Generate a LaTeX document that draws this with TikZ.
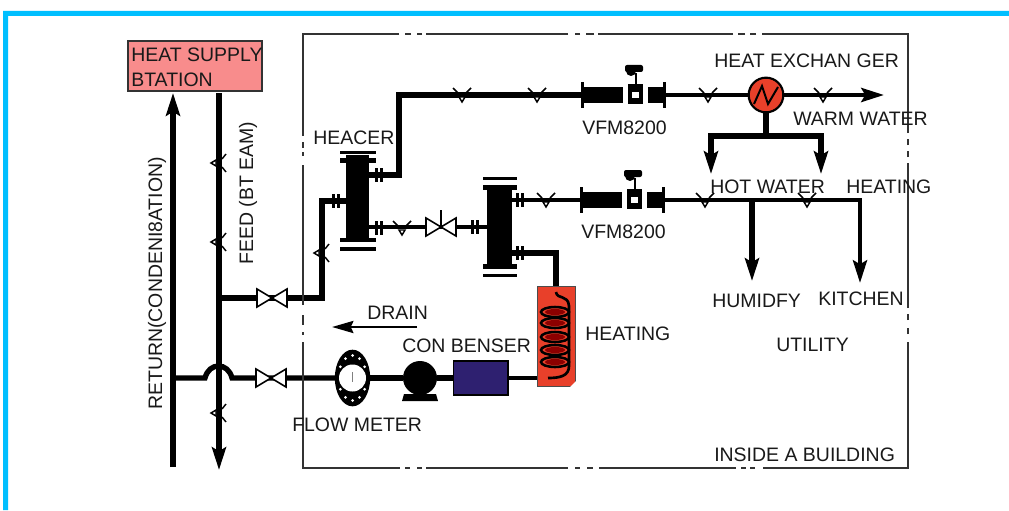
\documentclass[tikz,border=0pt]{standalone}
\usepackage{fontspec}
\setmainfont{Liberation Sans}
\usetikzlibrary{arrows.meta,shapes.geometric,backgrounds}
\definecolor{edgeblue}{HTML}{00BFFF}
\definecolor{supplyred}{HTML}{F88C8C}
\definecolor{hotred}{HTML}{E8402A}
\definecolor{navybox}{HTML}{2E2070}
\definecolor{framegray}{HTML}{333333}
\tikzset{
  pipe/.style={line width=4pt,line join=miter,draw=black},
  thinpipe/.style={line width=3.2pt,draw=black},
  flow/.style={-{Stealth[length=17pt,width=10.5pt,inset=3pt]}},
  framed/.style={line width=1.5pt,draw=framegray},
  lbl/.style={inner sep=0pt,anchor=base west,text=black!90,font=\fontsize{14.6}{16}\selectfont},
  chk/.style={line width=1.1pt,draw=black},
  block/.style={inner sep=0pt,outer sep=0pt,fill=black,draw=none},
  chkh/.pic={
    \draw[chk] (-9,-7)--(-4,-2) (9,-7)--(4,-2);
    \draw[chk,fill=white] (-3,2)--(3,2)--(0,7)--cycle;
  },
  chkv/.pic={
    \draw[chk] (7,-9)--(3,-4) (7,9)--(3,4);
    \draw[chk,fill=white] (-3,-3)--(-3,3)--(-8,0)--cycle;
  },
  bowtie/.pic={
    \draw[line width=1.2pt,fill=white] (-15,-9)--(-15,9)--(0,0)--cycle;
    \draw[line width=1.2pt,fill=white] (15,-9)--(15,9)--(0,0)--cycle;
  },
  flangeh/.pic={
    \fill (-4,-7) rectangle (-1,7);
    \fill (1,-7) rectangle (4,7);
  },
  vfmdetail/.pic={
    \fill (-47,-13) rectangle (-44,13);
    \fill (-44,-8) rectangle (-5,8);
    \fill (0,-11) rectangle (15,9);
    \fill[white] (4,-3) rectangle (11,3);
    \fill (20,-8) rectangle (36,8);
    \fill (35,-13) rectangle (38,13);
    \draw[line width=1.8pt] (8,-11)--(8,-22);
    \fill[rounded corners=1.5pt] (-3,-30) rectangle (15,-23);
    \fill (3,-24) circle (5);
  },
}
\begin{document}
\begin{tikzpicture}[x=0.75pt,y=-0.75pt]
\useasboundingbox (0,0) rectangle (1009,510);
\begin{pgfonlayer}{background}
\fill[white] (0,0) rectangle (1009,510);
\fill[edgeblue] (3,510) -- (3,11) -- (1009,11) -- (1009,16) -- (8,16) -- (8,510) -- cycle;
\end{pgfonlayer}

% frame
\draw[framed,line cap=butt]
  (399,34) -- (303,34) -- (303,136) (303,142) -- (303,148) (303,152) -- (303,156) (303,165) -- (303,305)
  (303,315) -- (303,325) (303,332) -- (303,335) (303,342) -- (303,468) -- (400,468)
  (405,468) -- (410,468) (417,468) -- (422,468) (426,468) -- (568,468)
  (575,468) -- (580,468) (587,468) -- (593,468) (599,468) -- (736,468)
  (741,468) -- (746,468) (750,468) -- (755,468) (763,468) -- (908,468) -- (908,342)
  (908,334) -- (908,328) (908,320) -- (908,314) (908,308) -- (908,163)
  (908,157) -- (908,151) (908,145) -- (908,139) (908,133) -- (908,34) -- (762,34)
  (756,34) -- (750,34) (745,34) -- (738,34) (733,34) -- (598,34)
  (594,34) -- (586,34) (580,34) -- (575,34) (568,34) -- (426,34)
  (422,34) -- (417,34) (411,34) -- (405,34);

% components
\node[draw=black!80,line width=1.2pt,fill=supplyred,minimum width=100.5pt,minimum height=37.5pt,inner sep=0pt] (supply) at (195,66) {};
\node[block,minimum width=17.5pt,minimum height=64pt] (heaterA) at (357.5,198) {};
\node[block,minimum width=18.5pt,minimum height=59pt] (heaterB) at (499.5,227) {};
\node[inner sep=0pt,outer sep=0pt,minimum width=61pt,minimum height=15pt] (vfmA) at (623,95) {};
\node[inner sep=0pt,outer sep=0pt,minimum width=63pt,minimum height=15pt] (vfmB) at (622,200) {};
\node[circle,draw=black,line width=1.6pt,fill=hotred,minimum size=26pt,inner sep=0pt] (hx) at (766,95) {};
\node[draw=black,line width=1pt,fill=navybox,minimum width=41pt,minimum height=25.5pt,inner sep=0pt] (cond) at (480.5,378) {};
\node[draw=black!70,line width=.8pt,fill=hotred,minimum width=29pt,minimum height=75.5pt,inner sep=0pt] (coil) at (556.5,336.5) {};
\node[circle,block,minimum size=25.5pt] (pump) at (420,378) {};
\node[ellipse,block,minimum width=26.5pt,minimum height=42.5pt] (meter) at (352.5,378) {};
\node[coordinate] (vfeed) at (272,298) {};
\node[coordinate] (vret) at (271,378) {};
\node[coordinate] (vmid) at (441,227) {};

% free ends and bends
\coordinate (rettop) at (173,93);
\coordinate (retbot) at (173,467);
\coordinate (feedtop) at (219,93);
\coordinate (feedbot) at (219,470);
\coordinate (feedtee) at (219,298);
\coordinate (rise) at (322,298);
\coordinate (riseend) at (322,201);
\coordinate (up) at (399,175);
\coordinate (top) at (399,95);
\coordinate (warmend) at (884,95);
\coordinate (split) at (766,136);
\coordinate (hotL) at (711,136);
\coordinate (hotR) at (821,136);
\coordinate (hotLend) at (711,174);
\coordinate (hotRend) at (821,174);
\coordinate (corner) at (860,200);
\coordinate (kitchen) at (860,283);
\coordinate (humtee) at (752,200);
\coordinate (humend) at (752,281);
\coordinate (lowB) at (556,253);
\coordinate (retjoin) at (173,378);
\coordinate (humpL) at (205,378);
\coordinate (humpR) at (232,378);
\coordinate (drainA) at (417,327);
\coordinate (drainB) at (332,327);
\coordinate (coilout) at (537,378);

% pipes
\begin{pgfonlayer}{background}
\draw[pipe,line width=4.2pt,flow] (retbot) -- (rettop);
\draw[pipe,line width=4.5pt,flow] (feedtop) -- (feedbot);
\draw[pipe] (feedtee) -- (vfeed) -- (rise) -- (riseend) -- (heaterA.west |- riseend);
\draw[pipe] (heaterA.east |- up) -- (up) -- (top) -- (vfmA.west |- top);
\draw[thinpipe] (vfmA.east |- top) -- (hx.west);
\draw[thinpipe,flow] (hx.east) -- (warmend);
\draw[pipe] (hx.south) -- (split);
\draw[pipe,flow] (split) -- (hotL) -- (hotLend);
\draw[pipe,flow] (split) -- (hotR) -- (hotRend);
\draw[thinpipe] (heaterA.east |- vmid) -- (vmid) -- (heaterB.west |- vmid);
\draw[thinpipe] (heaterB.east |- vfmB) -- (vfmB.west);
\draw[thinpipe,flow] (vfmB.east) -- (corner) -- (kitchen);
\draw[pipe,flow] (humtee) -- (humend);
\draw[pipe] (heaterB.east |- lowB) -- (lowB) -- (coil.north -| lowB);
\draw[pipe] (retjoin) -- (humpL) .. controls (209,362) and (228,362) .. (humpR) -- (vret) -- (meter.west);
\draw[pipe] (meter.east) -- (pump.west);
\draw[pipe] (pump.east) -- (cond.west);
\draw[thinpipe] (cond.east) -- (coilout);
\end{pgfonlayer}
\draw[line width=2.2pt,draw=black,-{Stealth[length=16pt,width=9pt,inset=2pt]}] (drainA) -- (drainB);

% fittings on the pipes
\foreach \p in {(219,163),(219,242),(219,413),(322,253)} \path \p pic {chkv};
\foreach \p in {(462,95),(537,95),(708,95),(823,95),(402,228),(546,200),(705,200),(807,200)} \path \p pic {chkh};
\path (vfeed) pic {bowtie} (vret) pic {bowtie} (vmid) pic {bowtie};
\draw[line width=1.6pt] (vmid) -- ++(0,-17);
\path (379,175) pic {flangeh} (379,228) pic {flangeh} (336,201) pic {flangeh}
      (475,227) pic {flangeh} (520,200) pic {flangeh} (520,253) pic {flangeh};
\fill (340,151) rectangle (376,154);
\fill (340,158) rectangle (376,163);
\fill (340,238) rectangle (376,242);
\fill (340,247) rectangle (376,251);
\fill (483,177) rectangle (517,180);
\fill (483,185) rectangle (517,190);
\fill (483,264) rectangle (517,269);
\fill (483,274) rectangle (517,277);
\path (628,95) pic {vfmdetail} (627,200) pic {vfmdetail};

% heat exchanger zigzag
\draw[line width=1.5pt,line join=miter] (754,104) -- (762,86) -- (768,104) -- (778,87);

% flow meter details
\fill[white] (352.5,378) circle (13.5);
\draw[black!50,line width=.5pt] (352,372) -- (352,382);
\foreach \a in {30,60,90,120,150,210,240,270,300,330} \fill[white] (352.5,378) ++({14*cos(\a)},{22.5*sin(\a)}) circle (1.5);

% pump foot
\fill (404,394) -- (436,394) -- (438,401) -- (402,401) -- cycle;

% heating coil
\fill[white] (576,387) -- (570,387) -- (576,381) -- cycle;
\foreach \y in {312,323,337,350,362} {
  \fill[red!55!black] (555,\y) ellipse (10 and 3);
  \draw[black,line width=1.9pt] (555,\y) ellipse (14 and 5);
}
\draw[black,line width=2pt] (556,292) .. controls (557,300) and (568,294) .. (569,306) -- (569,366)
  .. controls (569,376) and (560,378) .. (548,378);

% labels
\node[lbl] (t1) at (131,61) {HEAT SUPPLY};
\node[lbl] (t2) at (131,86) {BTATION};
\node[lbl] (t3) at (313,144) {HEACER};
\node[lbl,rotate=90] (t4) at (162,410) {RETURN(CONDENI8ATION)};
\node[lbl,rotate=90] (t5) at (253,265) {FEED (BT EAM)};
\node[lbl] (t6) at (582,134) {VFM8200};
\node[lbl] (t7) at (581,238) {VFM8200};
\node[lbl] (t8) at (714,68) {HEAT EXCHAN GER};
\node[lbl] (t9) at (793,125) {WARM WATER};
\node[lbl] (t10) at (710,193) {HOT WATER};
\node[lbl] (t11) at (846,193) {HEATING};
\node[lbl] (t12) at (712,307) {HUMIDFY};
\node[lbl] (t13) at (818,305) {KITCHEN};
\node[lbl] (t14) at (776,351) {UTILITY};
\node[lbl] (t15) at (367,319) {DRAIN};
\node[lbl] (t16) at (402,352) {CON BENSER};
\node[lbl] (t17) at (585,340) {HEATING};
\node[lbl] (t18) at (292,431) {FLOW METER};
\node[lbl] (t19) at (714,461) {INSIDE A BUILDING};
\end{tikzpicture}
\end{document}
